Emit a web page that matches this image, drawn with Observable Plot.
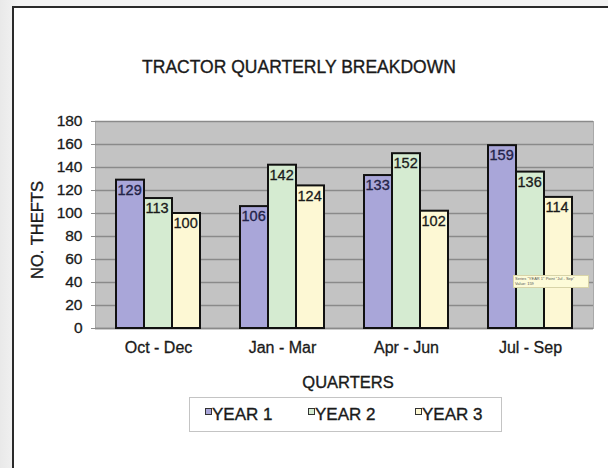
<!DOCTYPE html>
<html>
<head>
<meta charset="utf-8">
<script src="https://cdn.jsdelivr.net/npm/d3@7"></script>
<script src="https://cdn.jsdelivr.net/npm/@observablehq/plot@0.6"></script>
<style>
  html { margin: 0; padding: 0; width: 608px; height: 468px; overflow: hidden; }
  body { margin: 0; padding: 0; width: 608px; height: 468px; overflow: hidden; position: relative;
         background: linear-gradient(90deg, #e9e9e9, #f3f3f3 3%, #f3f3f3);
         font-family: "Liberation Sans", Arial, sans-serif; color: #1a1a1a; }
  #frame { position: absolute; left: 12px; top: 6px; width: 620px; height: 480px;
           border-left: 2px solid #2a2a2a; border-top: 2px solid #2a2a2a; background: #fff; }
  #cover { position: absolute; left: 597px; top: 8px; width: 11px; height: 460px; background: #fff; z-index: 10; }
  .heavy { -webkit-text-stroke: 0.35px #1a1a1a; }
  #title { position: absolute; left: 0; width: 598px; top: 56px; text-align: center;
           font-size: 17.5px; line-height: 22px; color: #1a1a1a; }
  #chart { position: absolute; left: 0; top: 100px; width: 608px; height: 262px; overflow: hidden; }
  #chart svg text { stroke: currentColor; stroke-width: 0.3px; }
  #ylabel { position: absolute; left: 37px; top: 230px; transform: translate(-50%, -50%) rotate(-90deg);
            font-size: 16.5px; white-space: nowrap; color: #1a1a1a; }
  #xlabel { position: absolute; left: 200px; width: 296px; top: 371px; text-align: center;
            font-size: 16.5px; line-height: 22px; color: #1a1a1a; }
  #legend { position: absolute; left: 189px; top: 397px; width: 311px; height: 33px;
            border: 1.5px solid #c4c4c4; background: #fff; }
  .item { position: absolute; top: 6px; font-size: 17px; line-height: 22px; white-space: nowrap; }
  .sw { position: absolute; left: -7px; top: 4px; width: 5px; height: 5px; border: 1.5px solid #333; }
  #tip { position: absolute; left: 513px; top: 275px; width: 72px; height: 11px;
         background: #fdfbd8; border: 1px solid #d8d4a8; font-size: 4px; line-height: 5px;
         padding: 0 1px; color: #555; overflow: hidden; white-space: nowrap; }
</style>
</head>
<body>
<div id="frame"></div>
<div id="title" class="heavy">TRACTOR QUARTERLY BREAKDOWN</div>
<div id="chart"></div>
<div id="ylabel" class="heavy">NO. THEFTS</div>
<div id="xlabel" class="heavy">QUARTERS</div>
<div id="legend"></div>
<div id="tip">Series "YEAR 1" Point "Jul - Sep"<br>Value: 159</div>
<div id="cover"></div>
<script>
const quarters = ["Oct - Dec", "Jan - Mar", "Apr - Jun", "Jul - Sep"];
const seriesNames = ["YEAR 1", "YEAR 2", "YEAR 3"];
const year1 = [129, 106, 133, 159];
const year2 = [113, 142, 152, 136];
const year3 = [100, 124, 102, 114];
const yTicks = [0, 20, 40, 60, 80, 100, 120, 140, 160, 180];
const colors = ["#a9a6d9", "#d5ebd1", "#fdf8d4"];
const labelColors = ["#25255e", "#1a1a1a", "#1a1a1a"];

const seriesValues = [year1, year2, year3];
const tables = seriesValues.map((vals, i) =>
  quarters.map((q, j) => ({quarter: q, series: seriesNames[i], value: vals[j]})));

const barW = 28;
const marks = [
  Plot.frame({fill: "#c3c3c3", stroke: "#a9a9a9"}),
  Plot.gridY({ticks: yTicks, stroke: "#8a8a8a", strokeOpacity: 1, strokeWidth: 1.3}),
  Plot.axisY({ticks: yTicks, tickSize: 4, tickPadding: 9, fontSize: 15.5, stroke: "#8a8a8a", label: null, fill: "#1a1a1a"}),
  Plot.axisX({tickSize: 0, tickPadding: 13, fontSize: 16, label: null, fill: "#1a1a1a"}),
  Plot.ruleY([0], {stroke: "#8a8a8a", strokeWidth: 1.3})
];
tables.forEach((t, i) => {
  marks.push(Plot.barY(t, {
    x: "quarter", y: "value", fill: colors[i], stroke: "#111", strokeWidth: 2,
    insetLeft: i * barW, insetRight: (2 - i) * barW
  }));
});
tables.forEach((t, i) => {
  marks.push(Plot.text(t, {
    x: "quarter", y: "value", text: d => String(d.value),
    dx: i * barW - 41, dy: 10, textAnchor: "start", lineAnchor: "middle",
    fontSize: 14.5, fill: labelColors[i]
  }));
});

const chart = Plot.plot({
  width: 608,
  height: 262,
  marginTop: 21,
  marginBottom: 34,
  marginLeft: 95,
  marginRight: 15,
  style: {fontFamily: "Liberation Sans, Arial, sans-serif", background: "transparent", color: "#1a1a1a"},
  x: {type: "band", domain: quarters, paddingInner: 0.325, paddingOuter: 0.1625, axis: null},
  y: {domain: [0, 180], axis: null},
  marks
});
document.getElementById("chart").appendChild(chart);

const legend = document.getElementById("legend");
const lefts = [22, 125, 232];
seriesNames.forEach((name, i) => {
  const it = document.createElement("div");
  it.className = "item heavy";
  it.style.left = lefts[i] + "px";
  it.textContent = name;
  const sw = document.createElement("span");
  sw.className = "sw";
  sw.style.background = colors[i];
  it.appendChild(sw);
  legend.appendChild(it);
});
</script>
</body>
</html>
